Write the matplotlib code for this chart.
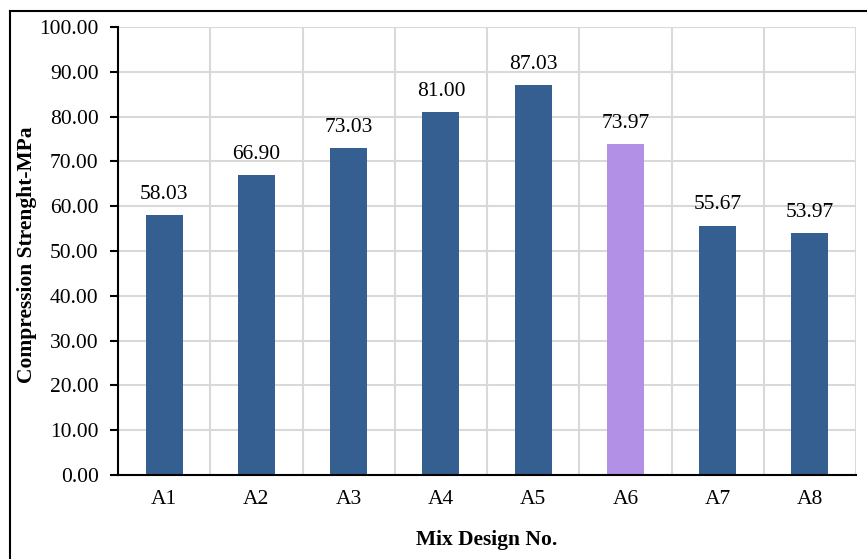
import matplotlib
matplotlib.use("Agg")
import matplotlib.pyplot as plt
from matplotlib.lines import Line2D

mixes = ["A1", "A2", "A3", "A4", "A5", "A6", "A7", "A8"]
strength = [58.03, 66.90, 73.03, 81.00, 87.03, 73.97, 55.67, 53.97]
highlight = "A6"

blue = "#365F91"
purple = "#B290E5"
grid_col = "#D9D9D9"

plt.rcParams["font.family"] = ["Liberation Serif", "DejaVu Serif"]

W, H = 867, 559
fig = plt.figure(figsize=(W / 100, H / 100), dpi=100)
ax = fig.add_axes([118 / W, 1 - 475 / H, (856 - 118) / W, (475 - 27) / H])

x = list(range(len(mixes)))
colors = [purple if m == highlight else blue for m in mixes]
ax.bar(x, strength, width=0.4, color=colors, zorder=3)

for xi, v in zip(x, strength):
    ax.annotate(f"{v:.2f}", (xi, v), xytext=(0, 8), textcoords="offset points",
                ha="center", va="bottom", fontsize=15.5)

ax.set_xlim(-0.5, len(mixes) - 0.5)
ax.set_ylim(0, 100)
ax.set_yticks(range(0, 101, 10))
ax.set_yticklabels([f"{t:.2f}" for t in range(0, 101, 10)], fontsize=15.5)
ax.set_xticks(x)
ax.set_xticklabels(mixes, fontsize=15.5)
ax.tick_params(axis="x", length=0, pad=11)
ax.tick_params(axis="y", length=6, width=1.5, direction="out", pad=8)

ax.grid(axis="y", color=grid_col, lw=1.5, zorder=0)
for b in [i + 0.5 for i in x]:
    ax.axvline(b, color=grid_col, lw=1.5, zorder=0)

for s in ["top", "right"]:
    ax.spines[s].set_visible(False)
for s in ["left", "bottom"]:
    ax.spines[s].set_linewidth(1.5)
    ax.spines[s].set_color("black")
    ax.spines[s].set_zorder(4)

fig.text(27.5 / W, 1 - 255 / H, "Compression Strenght-MPa", rotation=90,
         ha="center", va="center", fontsize=15.5, fontweight="bold")
fig.text(487 / W, 1 - 540 / H, "Mix Design No.",
         ha="center", va="center", fontsize=15.5, fontweight="bold")

# outer chart frame
fig.add_artist(Line2D([10 / W, 1.0], [1 - 11 / H, 1 - 11 / H],
                      transform=fig.transFigure, color="black", lw=1.5))
fig.add_artist(Line2D([10 / W, 10 / W], [0.0, 1 - 11 / H],
                      transform=fig.transFigure, color="black", lw=1.5))

fig.savefig("out.png", dpi=100)
